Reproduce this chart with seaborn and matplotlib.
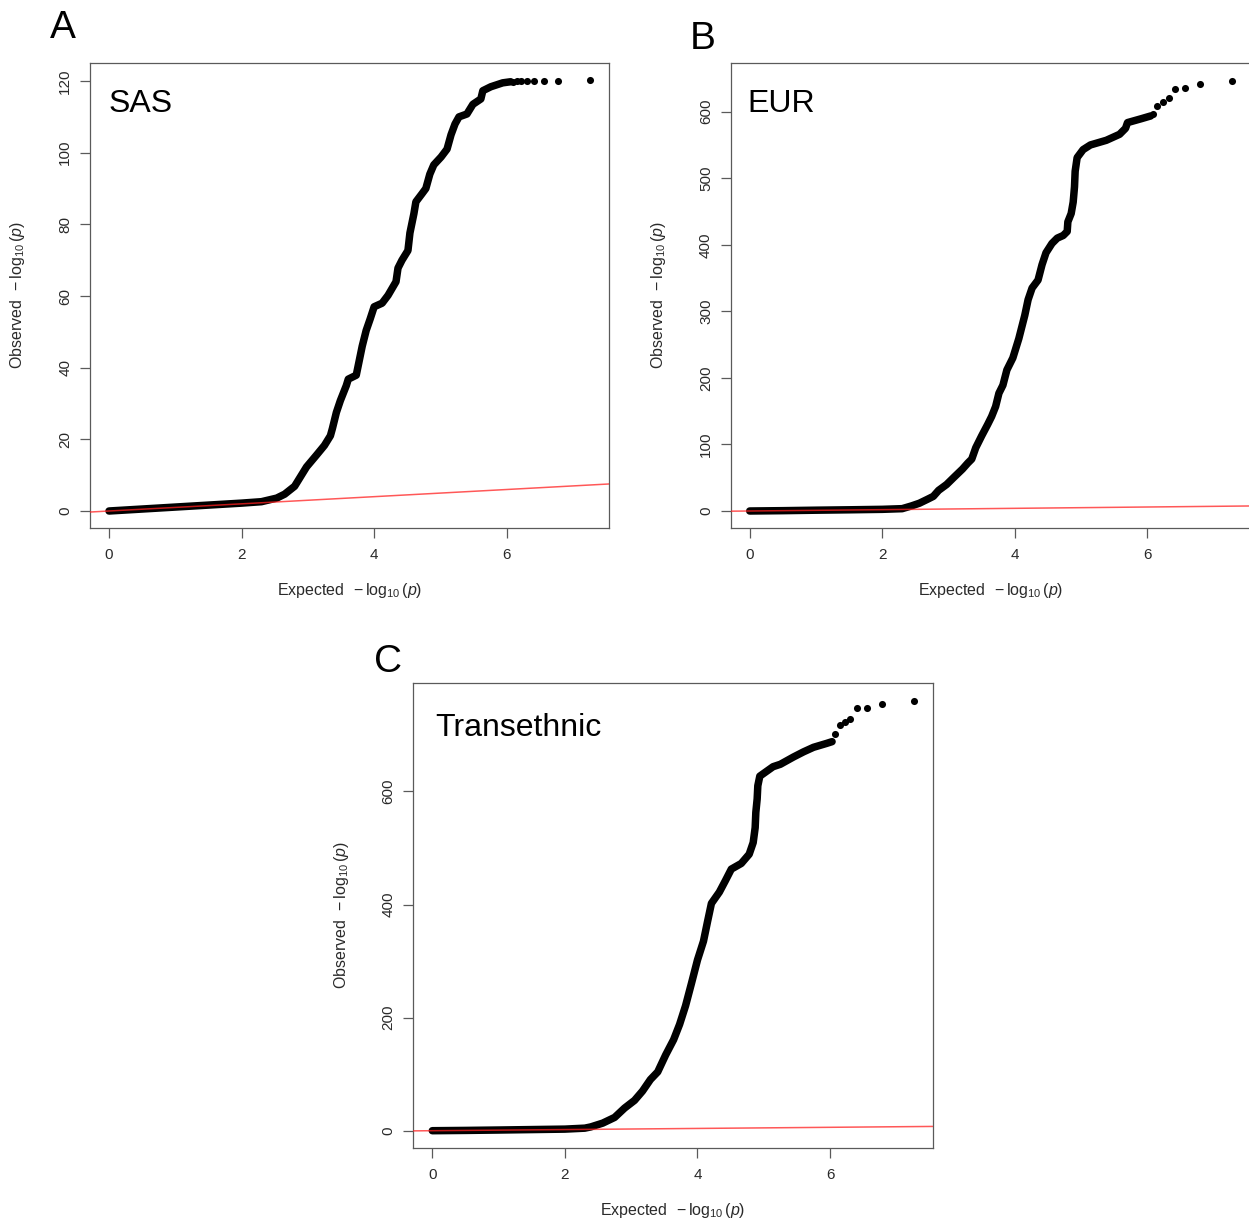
import numpy as np
import matplotlib
matplotlib.use("Agg")
import matplotlib.pyplot as plt
import seaborn as sns

# ---------------- data ----------------
# Panel A : SAS
sas_curve_x = [0.00, 0.50, 1.00, 1.50, 2.00, 2.30, 2.53, 2.65, 2.80, 2.89, 2.98, 3.13, 3.25,
               3.34, 3.37, 3.43, 3.49, 3.58, 3.61, 3.73, 3.76, 3.82, 3.88, 3.94, 4.00, 4.12,
               4.21, 4.33, 4.36, 4.42, 4.51, 4.54, 4.60, 4.63, 4.72, 4.78, 4.84, 4.90, 5.01,
               5.10, 5.16, 5.22, 5.28, 5.40, 5.49, 5.61, 5.64, 5.76, 5.94, 6.06]
sas_curve_y = [0.0, 0.55, 1.1, 1.65, 2.2, 2.6, 3.6, 4.7, 6.9, 9.6, 12.3, 15.6, 18.3,
               21.0, 23.0, 27.5, 30.8, 35.0, 36.8, 37.9, 40.6, 46.0, 50.4, 53.6, 57.0, 58.0,
               60.2, 64.0, 67.8, 70.0, 72.7, 77.6, 83.0, 86.3, 88.5, 90.0, 94.0, 96.6, 98.8,
               101.0, 105.0, 108.0, 110.0, 110.8, 113.5, 115.0, 117.3, 118.4, 119.5, 119.8]
sas_tail_x = [6.09, 6.15, 6.22, 6.30, 6.41, 6.56, 6.78, 7.26]
sas_tail_y = [119.8, 119.9, 119.9, 119.9, 119.9, 120.0, 120.0, 120.2]

# Panel B : EUR
eur_curve_x = [0.00, 0.50, 1.00, 1.50, 2.00, 2.30, 2.44, 2.56, 2.68, 2.77, 2.85, 2.97, 3.09,
               3.21, 3.29, 3.35, 3.41, 3.50, 3.59, 3.65, 3.71, 3.76, 3.82, 3.88, 3.97, 4.06,
               4.15, 4.20, 4.26, 4.35, 4.41, 4.47, 4.56, 4.64, 4.73, 4.79, 4.80, 4.85, 4.88,
               4.90, 4.91, 4.94, 5.03, 5.14, 5.38, 5.58, 5.67, 5.70, 5.91, 6.05]
eur_curve_y = [0.0, 0.5, 1.2, 1.8, 2.5, 3.5, 7.6, 11.7, 17.5, 22.0, 31.0, 39.8, 51.5,
               63.0, 72.0, 78.0, 95.0, 113.0, 130.0, 142.0, 157.0, 177.0, 189.0, 212.0, 230.0, 259.0,
               294.0, 317.5, 335.0, 347.0, 370.0, 388.0, 402.0, 410.0, 414.0, 420.0, 434.5, 447.0, 464.0,
               487.0, 510.5, 531.0, 543.0, 550.0, 557.0, 566.0, 575.0, 583.6, 589.5, 593.6]
eur_tail_x = [6.09, 6.14, 6.23, 6.32, 6.42, 6.57, 6.79, 7.27]
eur_tail_y = [596.5, 608.8, 614.6, 620.5, 634.5, 635.7, 641.5, 645.6]

# Panel C : Transethnic
tra_curve_x = [0.00, 0.50, 1.00, 1.50, 2.00, 2.30, 2.39, 2.57, 2.75, 2.90, 3.05, 3.17, 3.29,
               3.40, 3.52, 3.64, 3.73, 3.82, 3.91, 4.00, 4.09, 4.15, 4.21, 4.33, 4.42, 4.51,
               4.66, 4.78, 4.84, 4.87, 4.88, 4.90, 4.91, 4.94, 5.14, 5.25, 5.45, 5.60, 5.75,
               5.95, 6.03]
tra_curve_y = [0.0, 0.5, 1.2, 2.0, 2.8, 4.5, 6.7, 13.4, 23.5, 40.0, 53.6, 70.0, 90.5,
               104.0, 134.0, 161.0, 188.0, 221.0, 261.0, 302.0, 335.0, 369.0, 402.0, 422.0, 442.0, 462.6,
               472.6, 489.0, 509.5, 536.0, 563.0, 586.6, 610.0, 627.0, 643.7, 648.0, 661.0, 670.0, 678.0,
               685.0, 688.0]
tra_tail_x = [6.08, 6.15, 6.22, 6.30, 6.41, 6.55, 6.78, 7.26]
tra_tail_y = [701.5, 717.4, 723.2, 728.0, 747.0, 748.0, 755.0, 760.0]

panel_letters = ["A", "B", "C"]
panel_names = ["SAS", "EUR", "Transethnic"]
x_ticks = [0, 2, 4, 6]
y_ticks_sas = [0, 20, 40, 60, 80, 100, 120]
y_ticks_eur = [0, 100, 200, 300, 400, 500, 600]
y_ticks_tra = [0, 200, 400, 600]

# ---------------- style ----------------
sns.set_style("ticks")
plt.rcParams["font.family"] = ["Liberation Sans", "DejaVu Sans"]
plt.rcParams["mathtext.fontset"] = "custom"
plt.rcParams["mathtext.rm"] = "Liberation Sans"
plt.rcParams["mathtext.it"] = "Liberation Sans:italic"
plt.rcParams["mathtext.bf"] = "Liberation Sans:bold"

W, H = 1249, 1225
fig = plt.figure(figsize=(W / 100, H / 100), dpi=100)
fig.patch.set_facecolor("white")

def px_axes(left, top, right, bottom):
    return fig.add_axes([left / W, 1 - bottom / H, (right - left) / W, (bottom - top) / H])

panels = [
    dict(box=(90.0, 63.3, 609.3, 527.7), cx=sas_curve_x, cy=sas_curve_y, tx=sas_tail_x, ty=sas_tail_y,
         ylim=(-4.66, 124.95), yt=y_ticks_sas, letter_xy=(50, 38), name_xy=(0.0356, 0.895)),
    dict(box=(730.7, 63.3, 1250.0, 527.7), cx=eur_curve_x, cy=eur_curve_y, tx=eur_tail_x, ty=eur_tail_y,
         ylim=(-25.1, 672.7), yt=y_ticks_eur, letter_xy=(690, 49.3), name_xy=(0.0323, 0.8955)),
    dict(box=(413.3, 683.3, 932.7, 1147.7), cx=tra_curve_x, cy=tra_curve_y, tx=tra_tail_x, ty=tra_tail_y,
         ylim=(-30.06, 791.2), yt=y_ticks_tra, letter_xy=(374, 672.5), name_xy=(0.0427, 0.8865)),
]

for i, p in enumerate(panels):
    l, t, r, b = p["box"]
    ax = px_axes(l, t, r, b)
    axw, axh = r - l, b - t
    # dense part of the QQ curve
    sns.lineplot(x=p["cx"], y=p["cy"], sort=False, estimator=None, color="black",
                 linewidth=5.4, ax=ax, solid_capstyle="round", solid_joinstyle="round", zorder=2)
    # isolated top points
    sns.scatterplot(x=p["tx"], y=p["ty"], s=26, color="black", linewidth=0, ax=ax, zorder=3)
    # y = x reference line
    ax.axline((0, 0), slope=1, color="#ff2020", linewidth=1.1, alpha=0.75, zorder=4)

    ax.set_xlim(-0.287, 7.548)
    ax.set_ylim(*p["ylim"])
    ax.set_xticks(x_ticks)
    ax.set_yticks(p["yt"])
    ax.set_xticklabels([str(v) for v in x_ticks])
    ax.set_yticklabels([str(v) for v in p["yt"]])
    for s in ax.spines.values():
        s.set_visible(True)
        s.set_color("#5a5a5a")
        s.set_linewidth(0.9)
    ax.tick_params(axis="both", direction="out", length=7.2, width=0.9, color="#5a5a5a",
                   labelsize=11, labelcolor="#2a2a2a")
    ax.tick_params(axis="x", pad=7.5)
    ax.tick_params(axis="y", pad=5.5, labelrotation=90)
    for lab in ax.get_yticklabels():
        lab.set_va("center")

    ax.set_xlabel(r"Expected $\,-\log_{10}(\mathit{p})$", fontsize=11.5, color="#2a2a2a")
    ax.set_ylabel(r"Observed $\,-\log_{10}(\mathit{p})$", fontsize=11.5, color="#2a2a2a")
    ax.xaxis.set_label_coords(0.5, -63.0 / axh)
    ax.xaxis.label.set_va("center")
    ax.yaxis.set_label_coords(-72.0 / axw, 0.5)
    ax.yaxis.label.set_va("center")

    ax.text(p["name_xy"][0], p["name_xy"][1], panel_names[i], transform=ax.transAxes,
            fontsize=23, ha="left", va="baseline", color="black")
    lx, ly = p["letter_xy"]
    fig.text(lx / W, 1 - ly / H, panel_letters[i], fontsize=28, ha="left", va="baseline", color="black")

fig.savefig("out.png", dpi=100, facecolor="white")
